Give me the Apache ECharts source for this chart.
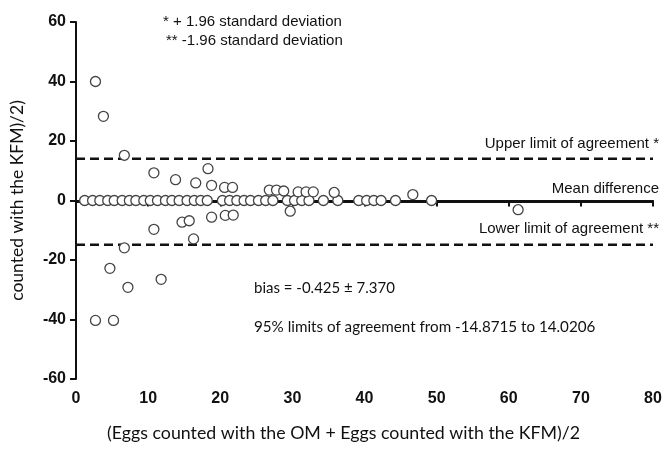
<!DOCTYPE html>
<html>
<head>
<meta charset="utf-8">
<script src="https://cdn.jsdelivr.net/npm/echarts@6/dist/echarts.min.js"></script>
<style>html,body{margin:0;padding:0;background:#fff}#c{width:665px;height:449px}</style>
</head>
<body>
<div id="c"></div>
<script>
// Averages (x) and differences (y) of the Bland-Altman points
const meanX = [1.2, 2.3, 3.3, 4.4, 5.3, 6.4, 7.4, 8.3, 9.4, 10.3, 11.3, 12.4, 13.3, 14.3, 15.4, 16.4, 17.3, 18.2,
  20.3, 21.3, 22.3, 23.3, 24.2, 25.3, 26.3, 27.3, 29.3, 30.3, 31.3, 32.3, 34.3, 36.3, 39.2, 40.3, 41.3, 42.3, 44.3, 49.3,
  2.7, 3.8, 6.7, 10.8, 13.8, 16.6, 18.3, 18.8, 20.6, 21.7, 26.8, 27.8, 28.8, 29.7, 30.8, 31.9, 32.9, 35.8, 46.7, 61.3,
  2.7, 5.2, 4.7, 7.2, 11.8, 6.7, 10.8, 14.7, 15.7, 16.3, 18.8, 20.7, 21.8];
const diffY = [0, 0, 0, 0, 0, 0, 0, 0, 0, 0, 0, 0, 0, 0, 0, 0, 0, 0,
  0, 0, 0, 0, 0, 0, 0, 0, 0, 0, 0, 0, 0, 0, 0, 0, 0, 0, 0, 0,
  40, 28.3, 15.2, 9.3, 7.0, 5.9, 10.7, 5.1, 4.4, 4.4, 3.5, 3.5, 3.2, -3.6, 2.9, 2.9, 2.9, 2.7, 2.0, -3.1,
  -40.3, -40.3, -22.8, -29.2, -26.5, -15.9, -9.7, -7.3, -6.8, -12.9, -5.6, -5.0, -4.9];
const bias = -0.425;
const upperLimit = 14.0206;
const lowerLimit = -14.8715;
const xTicks = [0, 10, 20, 30, 40, 50, 60, 70, 80];
const yTicks = [-60, -40, -20, 0, 20, 40, 60];
const xRange = [0, 80];

const points = meanX.map((x, i) => [x, diffY[i]]);
const hline = v => xRange.map(x => [x, v]);

const chart = echarts.init(document.getElementById('c'));
const lineStyleBase = {color: '#111', width: 2.5};
const annFont = '15px "Liberation Sans"';
chart.setOption({
  animation: false,
  grid: {left: 76, right: 12, top: 22, bottom: 70},
  xAxis: {
    type: 'value', min: xTicks[0], max: xTicks[xTicks.length - 1], interval: 10,
    axisLine: {lineStyle: {color: '#111', width: 2}},
    axisTick: {length: 6, lineStyle: {color: '#111', width: 2}},
    axisLabel: {margin: 12, fontFamily: 'Liberation Sans', fontWeight: 'bold', fontSize: 16, color: '#111'},
    splitLine: {show: false}
  },
  yAxis: {
    type: 'value', min: yTicks[0], max: yTicks[yTicks.length - 1], interval: 20,
    name: 'counted with the KFM)/2)',
    nameLocation: 'middle', nameGap: 50,
    nameTextStyle: {fontFamily: 'Lato', fontSize: 17.5, color: '#111'},
    axisLine: {lineStyle: {color: '#111', width: 2}},
    axisTick: {length: 6, lineStyle: {color: '#111', width: 2}},
    axisLabel: {margin: 10, fontFamily: 'Liberation Sans', fontWeight: 'bold', fontSize: 16, color: '#111'},
    splitLine: {show: false}
  },
  series: [
    {type: 'line', data: hline(bias), symbol: 'none', lineStyle: Object.assign({}, lineStyleBase, {type: 'solid'}), z: 1, silent: true},
    {type: 'line', data: hline(upperLimit), symbol: 'none', lineStyle: Object.assign({}, lineStyleBase, {type: [9, 5]}), z: 1, silent: true},
    {type: 'line', data: hline(lowerLimit), symbol: 'none', lineStyle: Object.assign({}, lineStyleBase, {type: [9, 5]}), z: 1, silent: true},
    {type: 'scatter', data: points, symbol: 'circle', symbolSize: 10,
     itemStyle: {color: '#fff', borderColor: '#444', borderWidth: 1.3, opacity: 1}, z: 3}
  ],
  graphic: [
    {type: 'text', left: 163, top: 14, style: {text: '* + 1.96 standard deviation', font: annFont, fill: '#111'}},
    {type: 'text', left: 166, top: 33, style: {text: '** -1.96 standard deviation', font: annFont, fill: '#111'}},
    {type: 'text', right: 6, top: 136, style: {text: 'Upper limit of agreement *', font: annFont, fill: '#111'}},
    {type: 'text', right: 6, top: 181, style: {text: 'Mean difference', font: annFont, fill: '#111'}},
    {type: 'text', right: 6, top: 221, style: {text: 'Lower limit of agreement **', font: annFont, fill: '#111'}},
    {type: 'text', left: 254, top: 281, style: {text: 'bias = -0.425 \u00b1 7.370', font: '15px Lato', fill: '#111'}},
    {type: 'text', left: 254, top: 320, style: {text: '95% limits of agreement from -14.8715 to 14.0206', font: '15.2px Lato', fill: '#111'}},
    {type: 'text', left: 107, top: 424, style: {text: '(Eggs counted with the OM + Eggs counted with the KFM)/2', font: '17.8px Lato', fill: '#111'}}
  ]
});
</script>
</body>
</html>
